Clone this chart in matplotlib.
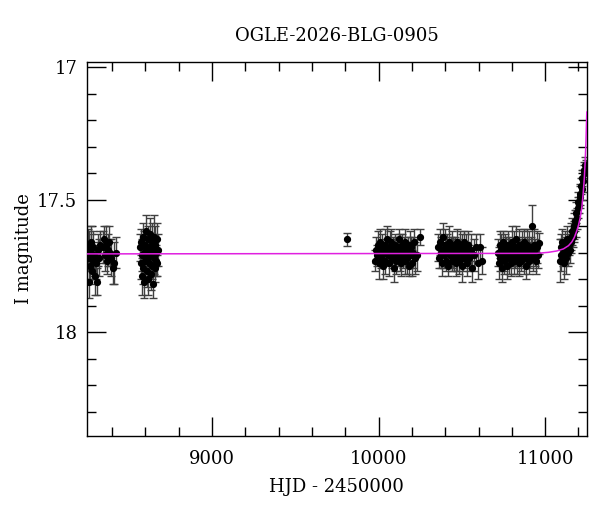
import matplotlib
matplotlib.use("Agg")
import matplotlib.pyplot as plt
from matplotlib.ticker import MultipleLocator, FuncFormatter

# season 1
s1_t = [8256, 8259, 8262, 8265, 8268, 8272, 8276, 8280, 8284, 8288, 8292, 8297, 8302, 8308, 8314,
        8320, 8326, 8348, 8353, 8358, 8363, 8368, 8374, 8380, 8387, 8395, 8404, 8414, 8425]
s1_m = [17.67, 17.72, 17.69, 17.81, 17.75, 17.66, 17.70, 17.77, 17.68, 17.73, 17.71, 17.79, 17.74, 17.81, 17.69,
        17.72, 17.67, 17.68, 17.65, 17.71, 17.67, 17.73, 17.69, 17.66, 17.70, 17.72, 17.76, 17.74, 17.70]
s1_e = [0.06, 0.05, 0.07, 0.06, 0.05, 0.06, 0.07, 0.05, 0.06, 0.06, 0.05, 0.07, 0.06, 0.05, 0.06,
        0.07, 0.05, 0.06, 0.05, 0.06, 0.07, 0.05, 0.06, 0.06, 0.05, 0.07, 0.06, 0.08, 0.06]

# season 2
s2_t = [8570, 8573, 8576, 8579, 8582, 8585, 8588, 8591, 8594, 8597, 8600, 8603, 8606, 8609, 8612, 8615, 8618, 8621,
        8624, 8627, 8630, 8633, 8636, 8639, 8642, 8645, 8648, 8651, 8654, 8657, 8660, 8663, 8666, 8669, 8672, 8675]
s2_m = [17.68, 17.74, 17.66, 17.79, 17.71, 17.64, 17.76, 17.70, 17.81, 17.67, 17.73, 17.62, 17.69, 17.77, 17.72, 17.65, 17.80, 17.70,
        17.74, 17.63, 17.68, 17.78, 17.71, 17.66, 17.75, 17.69, 17.82, 17.64, 17.72, 17.76, 17.67, 17.73, 17.70, 17.65, 17.74, 17.69]
s2_e = [0.05, 0.06, 0.05, 0.07, 0.06, 0.05, 0.06, 0.08, 0.06, 0.05, 0.07, 0.06, 0.05, 0.06, 0.07, 0.05, 0.06, 0.05,
        0.07, 0.06, 0.05, 0.06, 0.06, 0.07, 0.05, 0.06, 0.05, 0.08, 0.06, 0.05, 0.07, 0.06, 0.05, 0.06, 0.05, 0.06]

# lone point
s0_t = [9811]
s0_m = [17.65]
s0_e = [0.025]

# season 3
s3_t = [9981, 9986, 9991, 9996, 10001, 10006, 10011, 10016, 10021, 10026, 10031, 10036, 10041, 10046, 10051, 10056, 10061,
        10066, 10071, 10076, 10081, 10086, 10091, 10096, 10101, 10106, 10111, 10116, 10121, 10126, 10131, 10136, 10141,
        10146, 10151, 10156, 10161, 10166, 10171, 10176, 10181, 10186, 10191, 10196, 10201, 10206, 10212, 10220, 10230, 10248]
s3_m = [17.73, 17.69, 17.71, 17.67, 17.74, 17.70, 17.66, 17.72, 17.68, 17.75, 17.70, 17.67, 17.73, 17.69, 17.65, 17.71, 17.74,
        17.68, 17.70, 17.66, 17.72, 17.69, 17.76, 17.67, 17.71, 17.73, 17.68, 17.70, 17.65, 17.72, 17.69, 17.74, 17.67,
        17.71, 17.68, 17.73, 17.66, 17.70, 17.72, 17.69, 17.75, 17.67, 17.71, 17.68, 17.74, 17.70, 17.66, 17.72, 17.71, 17.64]
s3_e = [0.04, 0.05, 0.04, 0.05, 0.06, 0.04, 0.05, 0.04, 0.05, 0.05, 0.04, 0.06, 0.05, 0.04, 0.05, 0.04, 0.05,
        0.06, 0.04, 0.05, 0.04, 0.05, 0.05, 0.04, 0.06, 0.05, 0.04, 0.05, 0.04, 0.05, 0.06, 0.05, 0.04,
        0.05, 0.04, 0.05, 0.05, 0.04, 0.06, 0.05, 0.04, 0.05, 0.05, 0.04, 0.05, 0.06, 0.05, 0.06, 0.06, 0.03]

# season 4
s4_t = [10358, 10363, 10368, 10373, 10378, 10383, 10388, 10393, 10398, 10403, 10408, 10413, 10418, 10423, 10428,
        10433, 10438, 10443, 10448, 10453, 10458, 10463, 10468, 10473, 10478, 10483, 10488, 10493, 10498, 10503,
        10508, 10513, 10518, 10523, 10528, 10533, 10538, 10545, 10552, 10560, 10570, 10582, 10595, 10610, 10618]
s4_m = [17.68, 17.72, 17.66, 17.70, 17.74, 17.69, 17.64, 17.71, 17.67, 17.73, 17.70, 17.68, 17.75, 17.66, 17.71,
        17.69, 17.73, 17.67, 17.70, 17.72, 17.68, 17.74, 17.66, 17.71, 17.69, 17.73, 17.67, 17.70, 17.75, 17.68,
        17.72, 17.66, 17.71, 17.69, 17.74, 17.70, 17.67, 17.72, 17.69, 17.76, 17.71, 17.68, 17.74, 17.68, 17.73]
s4_e = [0.05, 0.04, 0.05, 0.06, 0.05, 0.04, 0.05, 0.05, 0.06, 0.04, 0.05, 0.05, 0.04, 0.06, 0.05,
        0.05, 0.04, 0.05, 0.06, 0.05, 0.04, 0.05, 0.05, 0.06, 0.04, 0.05, 0.05, 0.04, 0.06, 0.05,
        0.05, 0.04, 0.05, 0.06, 0.05, 0.04, 0.05, 0.05, 0.06, 0.05, 0.06, 0.05, 0.06, 0.05, 0.05]

# season 5
s5_t = [10716, 10721, 10726, 10731, 10736, 10741, 10746, 10751, 10756, 10761, 10766, 10771, 10776, 10781, 10786, 10791, 10796,
        10801, 10806, 10811, 10816, 10821, 10826, 10831, 10836, 10841, 10846, 10851, 10856, 10861, 10866, 10871, 10876,
        10881, 10886, 10891, 10896, 10901, 10906, 10911, 10916, 10920, 10926, 10932, 10938, 10945, 10952, 10960, 10966]
s5_m = [17.70, 17.74, 17.67, 17.72, 17.69, 17.76, 17.66, 17.71, 17.73, 17.68, 17.70, 17.75, 17.67, 17.72, 17.69, 17.71, 17.74,
        17.66, 17.70, 17.73, 17.68, 17.71, 17.65, 17.72, 17.69, 17.74, 17.67, 17.70, 17.73, 17.68, 17.71, 17.66, 17.72,
        17.69, 17.75, 17.67, 17.70, 17.73, 17.68, 17.71, 17.69, 17.60, 17.72, 17.67, 17.70, 17.73, 17.68, 17.71, 17.665]
s5_e = [0.05, 0.06, 0.05, 0.05, 0.06, 0.05, 0.04, 0.06, 0.05, 0.05, 0.06, 0.05, 0.05, 0.06, 0.05, 0.04, 0.05,
        0.06, 0.05, 0.05, 0.06, 0.05, 0.05, 0.06, 0.05, 0.05, 0.06, 0.05, 0.04, 0.06, 0.05, 0.05, 0.06,
        0.05, 0.05, 0.06, 0.05, 0.05, 0.06, 0.05, 0.05, 0.08, 0.05, 0.06, 0.05, 0.05, 0.06, 0.05, 0.04]

# season 6 (rising)
s6_t = [11088, 11093, 11098, 11103, 11108, 11113, 11118, 11123, 11128, 11133, 11138, 11143, 11148, 11153, 11158, 11163, 11168, 11172,
        11176, 11180, 11184, 11188, 11192, 11196, 11200, 11204, 11208, 11212, 11216, 11220, 11224, 11228, 11232, 11236, 11240, 11244]
s6_m = [17.73, 17.68, 17.71, 17.66, 17.70, 17.74, 17.67, 17.69, 17.72, 17.65, 17.70, 17.67, 17.69, 17.64, 17.66, 17.62, 17.64, 17.60,
        17.62, 17.58, 17.59, 17.55, 17.57, 17.53, 17.51, 17.52, 17.48, 17.49, 17.45, 17.46, 17.42, 17.43, 17.39, 17.40, 17.37, 17.38]
s6_e = [0.08, 0.05, 0.06, 0.05, 0.05, 0.06, 0.05, 0.05, 0.06, 0.05, 0.05, 0.04, 0.05, 0.05, 0.04, 0.05, 0.04, 0.05,
        0.04, 0.04, 0.05, 0.04, 0.04, 0.04, 0.04, 0.03, 0.04, 0.04, 0.03, 0.04, 0.03, 0.04, 0.03, 0.03, 0.03, 0.03]

# model curve
model_t = [8250, 10950, 11020, 11070, 11110, 11140, 11160, 11175, 11190, 11200, 11210, 11220, 11228, 11235, 11240, 11245, 11250]
model_m = [17.705, 17.703, 17.699, 17.694, 17.686, 17.674, 17.660, 17.643, 17.618, 17.597, 17.570, 17.530, 17.48, 17.42, 17.36, 17.28, 17.17]

plt.rcParams['font.family'] = 'DejaVu Serif'
plt.rcParams['font.size'] = 13

fig = plt.figure(figsize=(6, 5.12), dpi=100)
ax = fig.add_axes([0.145, 0.1484, 0.833, 0.7311])

seasons = [(s1_t, s1_m, s1_e), (s2_t, s2_m, s2_e), (s0_t, s0_m, s0_e), (s3_t, s3_m, s3_e),
           (s4_t, s4_m, s4_e), (s5_t, s5_m, s5_e), (s6_t, s6_m, s6_e)]
for t, m, e in seasons:
    ax.errorbar(t, m, yerr=e, fmt='o', color='black', ecolor='0.25', elinewidth=1,
                capsize=3, capthick=1, markersize=4.2, zorder=2)

ax.plot(model_t, model_m, color='#e020e0', lw=1.1, zorder=3)

ax.set_xlim(8250, 11250)
ax.set_ylim(18.392, 16.98)

ax.xaxis.set_major_locator(MultipleLocator(1000))
ax.xaxis.set_minor_locator(MultipleLocator(200))
ax.yaxis.set_major_locator(MultipleLocator(0.5))
ax.yaxis.set_minor_locator(MultipleLocator(0.1))
ax.yaxis.set_major_formatter(FuncFormatter(lambda v, p: f"{v:g}"))

ax.tick_params(which='both', direction='in', top=True, right=True, width=1, color='black')
ax.tick_params(which='major', length=13.5)
ax.tick_params(which='minor', length=6.7)
ax.tick_params(axis='x', which='major', pad=10, labelsize=13)
ax.tick_params(axis='y', which='major', pad=7, labelsize=13)
for s in ax.spines.values():
    s.set_linewidth(1)

ax.set_xlabel("HJD - 2450000", labelpad=7, fontsize=13)
ax.set_ylabel("I magnitude", labelpad=3, fontsize=13)
ax.set_title("OGLE-2026-BLG-0905", pad=15, fontsize=13)

fig.savefig("out.png", dpi=100)
